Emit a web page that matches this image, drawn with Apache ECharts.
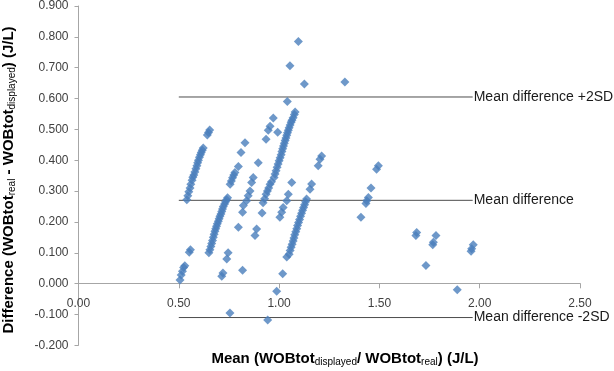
<!DOCTYPE html>
<html>
<head>
<meta charset="utf-8">
<script src="https://cdn.jsdelivr.net/npm/echarts@6/dist/echarts.min.js"></script>
<style>
  html, body { margin: 0; padding: 0; background: #fff; }
  #chart { width: 614px; height: 371px; }
</style>
</head>
<body>
<div id="chart"></div>
<script>
  // mean of the two measures (x) and their difference (y), J/L
  const points = [
    [0.506, 0.012], [0.512, 0.028], [0.518, 0.040], [0.524, 0.052], [0.530, 0.058],
    [0.552, 0.102], [0.558, 0.110],
    [0.540, 0.272], [0.545, 0.285], [0.550, 0.298], [0.556, 0.310], [0.560, 0.322],
    [0.566, 0.335], [0.570, 0.345], [0.575, 0.352], [0.580, 0.362], [0.585, 0.372],
    [0.590, 0.382], [0.594, 0.392], [0.598, 0.400], [0.603, 0.410], [0.608, 0.418],
    [0.612, 0.425], [0.617, 0.432], [0.622, 0.440], [0.642, 0.482], [0.648, 0.490],
    [0.654, 0.498],
    [0.650, 0.100], [0.655, 0.110], [0.660, 0.120], [0.664, 0.130], [0.668, 0.140],
    [0.672, 0.150], [0.676, 0.160], [0.680, 0.170], [0.684, 0.178], [0.688, 0.186],
    [0.692, 0.194], [0.697, 0.202], [0.701, 0.210], [0.705, 0.218], [0.710, 0.226],
    [0.714, 0.234], [0.718, 0.242], [0.722, 0.250], [0.728, 0.258], [0.733, 0.265],
    [0.738, 0.272], [0.743, 0.278],
    [0.714, 0.024], [0.720, 0.034], [0.739, 0.080], [0.746, 0.100], [0.818, 0.043],
    [0.797, 0.183], [0.755, -0.095], [0.943, -0.118], [0.988, -0.025], [1.018, 0.032],
    [1.038, 0.086],
    [0.756, 0.322], [0.762, 0.333], [0.768, 0.343], [0.774, 0.352], [0.780, 0.360],
    [0.797, 0.380], [0.810, 0.425], [0.830, 0.457],
    [0.818, 0.231], [0.822, 0.253], [0.838, 0.269], [0.846, 0.285], [0.855, 0.300],
    [0.863, 0.328], [0.871, 0.344], [0.896, 0.392],
    [0.880, 0.156], [0.888, 0.177], [0.915, 0.229],
    [0.920, 0.262], [0.928, 0.275], [0.935, 0.290], [0.942, 0.300], [0.948, 0.310],
    [0.955, 0.322], [0.962, 0.330],
    [0.935, 0.468], [0.946, 0.497], [0.955, 0.510], [0.971, 0.537], [0.993, 0.491],
    [0.975, 0.344], [0.980, 0.355], [0.985, 0.366], [0.990, 0.377], [0.995, 0.388],
    [1.000, 0.398], [1.005, 0.408], [1.010, 0.418], [1.014, 0.428], [1.018, 0.437],
    [1.022, 0.446], [1.026, 0.455], [1.030, 0.464], [1.034, 0.472], [1.038, 0.481],
    [1.042, 0.489], [1.046, 0.497], [1.050, 0.505], [1.055, 0.514], [1.060, 0.523],
    [1.064, 0.530], [1.070, 0.538], [1.076, 0.548], [1.080, 0.556],
    [1.041, 0.590], [1.054, 0.706], [1.096, 0.785], [1.126, 0.647], [1.328, 0.654],
    [1.004, 0.215], [1.013, 0.231], [1.020, 0.247], [1.038, 0.269], [1.046, 0.290],
    [1.063, 0.328],
    [1.050, 0.095], [1.055, 0.107], [1.060, 0.118], [1.065, 0.128], [1.070, 0.138],
    [1.074, 0.148], [1.078, 0.158], [1.083, 0.168], [1.088, 0.178], [1.092, 0.188],
    [1.097, 0.198], [1.102, 0.208], [1.107, 0.218], [1.112, 0.228], [1.117, 0.238],
    [1.122, 0.247], [1.127, 0.256], [1.132, 0.265], [1.137, 0.274],
    [1.154, 0.306], [1.162, 0.323], [1.195, 0.382], [1.204, 0.403], [1.212, 0.414],
    [1.408, 0.215], [1.433, 0.260], [1.437, 0.269], [1.445, 0.279], [1.458, 0.310],
    [1.486, 0.371], [1.495, 0.382],
    [1.682, 0.156], [1.686, 0.166], [1.732, 0.059], [1.766, 0.126], [1.769, 0.134],
    [1.782, 0.156], [1.888, -0.020], [1.957, 0.105], [1.960, 0.113], [1.968, 0.126]
  ];

  // reference lines
  const refNames = ['Mean difference +2SD', 'Mean difference', 'Mean difference -2SD'];
  const refLevels = [0.605, 0.27, -0.11];
  const refSpan = [0.5, 1.965];

  const chart = echarts.init(document.getElementById('chart'));

  // grid box, used to put the x axis (with its labels) at y = 0
  const gridTop = 4.3;
  const gridHeight = 341;
  const yMin = -0.2;
  const yMax = 0.9;
  const zeroOffset = -gridHeight * (0 - yMin) / (yMax - yMin);

  const titleRich = {
    b: { fontSize: 15, fontWeight: 'bold', fontFamily: 'Liberation Sans', fill: '#000' },
    s: { fontSize: 10, fontFamily: 'Liberation Sans', fill: '#000', padding: [6, 0, 0, 0] }
  };

  const refSeries = refNames.map((name, i) => ({
    name: name,
    type: 'line',
    symbol: 'none',
    silent: true,
    z: 1,
    lineStyle: { color: '#4d4d4d', width: 1 },
    endLabel: {
      show: true,
      formatter: name,
      distance: 1,
      color: '#1a1a1a',
      fontSize: 14,
      fontFamily: 'Liberation Sans'
    },
    data: refSpan.map(x => [x, refLevels[i]])
  }));

  chart.setOption({
    backgroundColor: '#ffffff',
    animation: false,
    grid: {
      left: 78.5,
      right: 34,
      top: gridTop,
      height: gridHeight
    },
    xAxis: {
      type: 'value',
      min: 0,
      max: 2.5,
      interval: 0.5,
      offset: zeroOffset,
      axisLine: { onZero: false, lineStyle: { color: '#a6a6a6' } },
      axisTick: { show: true, length: 5, lineStyle: { color: '#a6a6a6' } },
      splitLine: { show: false },
      axisLabel: {
        margin: 14,
        color: '#404040',
        fontSize: 12,
        fontFamily: 'Liberation Sans',
        formatter: v => v.toFixed(2)
      }
    },
    yAxis: {
      type: 'value',
      min: yMin,
      max: yMax,
      interval: 0.1,
      axisLine: { show: true, lineStyle: { color: '#a6a6a6' } },
      axisTick: { show: true, length: 4, lineStyle: { color: '#a6a6a6' } },
      splitLine: { show: false },
      axisLabel: {
        margin: 10,
        color: '#404040',
        fontSize: 12,
        fontFamily: 'Liberation Sans',
        formatter: v => v.toFixed(3)
      }
    },
    graphic: [
      {
        type: 'text',
        x: 345,
        y: 359,
        style: {
          text: '{b|Mean (WOBtot}{s|displayed}{b|/ WOBtot}{s|real}{b|) (J/L)}',
          align: 'center',
          verticalAlign: 'middle',
          rich: titleRich
        }
      },
      {
        type: 'text',
        x: 9,
        y: 180,
        rotation: Math.PI / 2,
        style: {
          text: '{b|Difference (WOBtot}{s|real}{b| - WOBtot}{s|displayed}{b|) (J/L)}',
          align: 'center',
          verticalAlign: 'middle',
          rich: titleRich
        }
      }
    ],
    series: refSeries.concat([{
      name: 'Difference',
      type: 'scatter',
      symbol: 'diamond',
      symbolSize: 9,
      z: 3,
      itemStyle: { color: '#4a7ebb' },
      data: points
    }])
  });
</script>
</body>
</html>
